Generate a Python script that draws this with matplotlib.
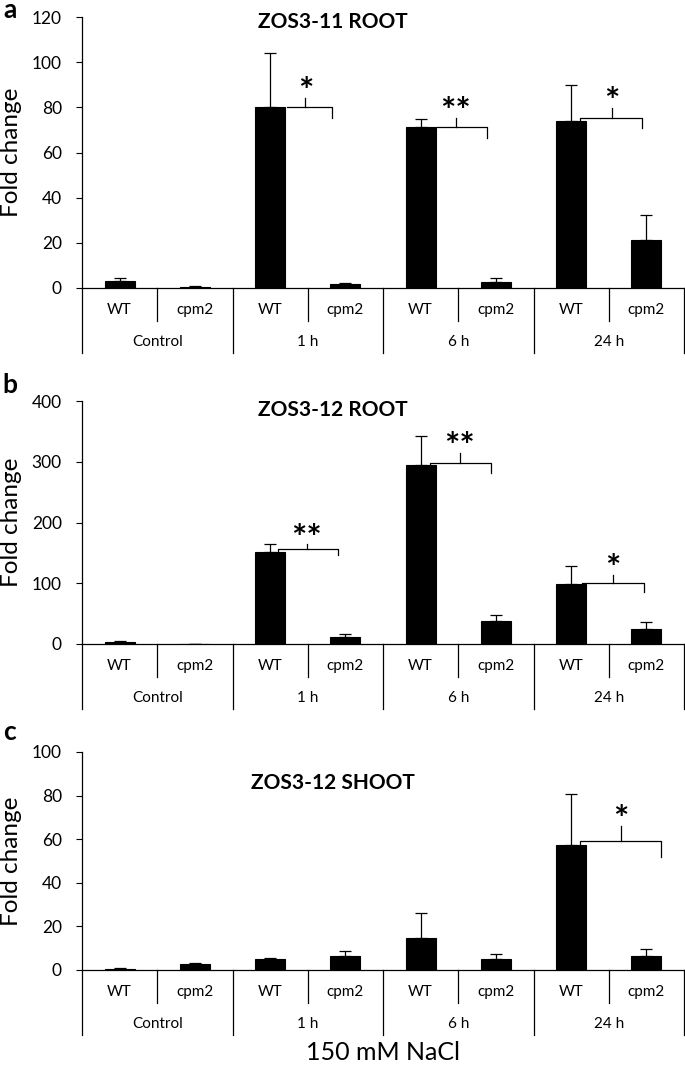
import numpy as np
import matplotlib
matplotlib.use("Agg")
import matplotlib.pyplot as plt

plt.rcParams['font.family'] = ['Lato', 'DejaVu Sans']

# Data
genotypes = ['WT', 'cpm2'] * 4
groups = ['Control', '1 h', '6 h', '24 h']

root11_mean = [3.0, 0.5, 80.0, 1.8, 71.1, 2.7, 73.8, 21.1]
root11_err = [1.6, 0.3, 24.2, 0.4, 3.6, 1.9, 16.2, 11.4]

root12_mean = [2.7, 0.5, 152.0, 12.0, 295.0, 37.2, 99.0, 25.2]
root12_err = [1.7, 0.3, 12.7, 3.9, 48.0, 11.0, 29.6, 10.9]

shoot12_mean = [0.6, 2.6, 5.1, 6.6, 14.5, 5.1, 57.4, 6.3]
shoot12_err = [0.4, 0.8, 0.6, 2.0, 11.8, 2.4, 23.5, 3.3]

# significance brackets: x_left, x_right, y_bar, y_right_end, x_tick, y_tick_top, label
brackets_a = [(2.72, 3.32, 80.0, 75.4, 2.97, 84.3, '*'),
              (4.72, 5.38, 71.1, 66.6, 4.97, 75.4, '**'),
              (6.62, 7.44, 75.4, 71.0, 7.04, 79.9, '*')]
brackets_b = [(2.60, 3.40, 156.0, 146.6, 2.99, 164.0, '**'),
              (4.62, 5.43, 298.0, 280.7, 5.02, 314.6, '**'),
              (6.65, 7.47, 99.6, 84.8, 7.05, 113.8, '*')]
brackets_c = [(6.62, 7.70, 59.0, 52.0, 7.16, 66.2, '*')]

W, H = 685, 1065
fig = plt.figure(figsize=(W / 100, H / 100), dpi=100)

panels = [
    ('a', 'ZOS3-11 ROOT', root11_mean, root11_err, brackets_a, 120, 20, 288, 17, 118, 10),
    ('b', 'ZOS3-12 ROOT', root12_mean, root12_err, brackets_b, 400, 100, 644, 401, 385, 385),
    ('c', 'ZOS3-12 SHOOT', shoot12_mean, shoot12_err, brackets_c, 100, 20, 970, 752, 86, 732),
]

x = np.arange(len(genotypes)) + 0.5
left_px, right_px = 82, 684

for letter, title, mean, err, brackets, ymax, ystep, y0_px, ytop_px, title_y, letter_y in panels:
    hpx = y0_px - ytop_px
    ax = fig.add_axes([left_px / W, 1 - y0_px / H, (right_px - left_px) / W, hpx / H])
    ax.bar(x, mean, width=0.4, color='black', edgecolor='black', linewidth=0.8)
    ax.errorbar(x, mean, yerr=[np.zeros(len(err)), err], fmt='none',
                ecolor='black', elinewidth=0.9, capsize=4, capthick=0.9)
    ax.set_xlim(0, 8)
    ax.set_ylim(0, ymax)
    ax.set_yticks(np.arange(0, ymax + 1, ystep))
    ax.tick_params(axis='y', direction='out', length=4.5, width=0.8, labelsize=12.5, pad=10)
    ax.set_xticks([])
    for s in ['top', 'right']:
        ax.spines[s].set_visible(False)
    ax.spines['left'].set_linewidth(0.9)
    ax.spines['bottom'].set_linewidth(0.9)
    ax.set_ylabel('Fold change', fontsize=17.5)
    ax.yaxis.set_label_coords(-0.10, 0.5)

    # category table below the axis
    tr = ax.get_xaxis_transform()
    d = lambda px: -px / hpx
    for xs in [1, 3, 5, 7]:
        ax.plot([xs, xs], [0, d(33)], color='black', lw=0.9, transform=tr, clip_on=False)
    for xs in [0, 2, 4, 6, 8]:
        ax.plot([xs, xs], [0, d(65)], color='black', lw=0.9, transform=tr, clip_on=False)
    for xi, g in zip(x, genotypes):
        ax.text(xi, d(22), g, transform=tr, ha='center', va='center', fontsize=11)
    for i, g in enumerate(groups):
        ax.text(2 * i + 1, d(54), g, transform=tr, ha='center', va='center', fontsize=11)

    # significance brackets
    for xl, xr, yb, yr, xt, yt, lab in brackets:
        ax.plot([xl, xl, xr, xr], [mean[int(xl)], yb, yb, yr], color='black', lw=0.9)
        ax.plot([xt, xt], [yb, yt], color='black', lw=0.9)
        ax.annotate(lab, (xt, yt), xytext=(0, -4), textcoords='offset points',
                    ha='center', va='baseline', fontsize=26, fontweight='bold')

    ax.text(3.33, title_y, title, ha='center', va='center', fontsize=15, fontweight='bold')
    fig.text(10 / W, 1 - letter_y / H, letter, ha='center', va='center', fontsize=19, fontweight='bold')

fig.text(((left_px + right_px) / 2) / W, 1 - 1052 / H, '150 mM NaCl', ha='center', va='center', fontsize=18)

fig.savefig('out.png', dpi=100)
